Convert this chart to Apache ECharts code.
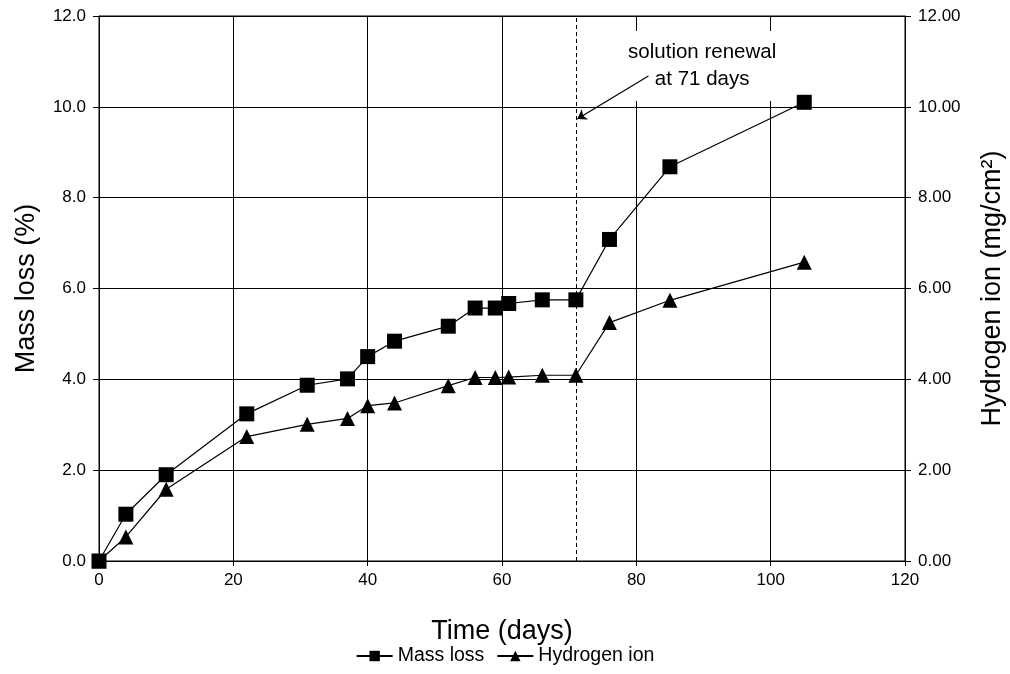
<!DOCTYPE html>
<html><head><meta charset="utf-8">
<script src="https://cdn.jsdelivr.net/npm/echarts@6/dist/echarts.min.js"></script>
<style>html,body{margin:0;padding:0;background:#fff}#c{width:1010px;height:674px}</style>
</head><body><div id="c"></div>
<script>
const days = [0, 4, 10, 22, 31, 37, 40, 44, 52, 56, 59, 61, 66, 71, 76, 85, 105];
const massLoss = [0.0, 1.03, 1.90, 3.24, 3.87, 4.01, 4.50, 4.84, 5.17, 5.57, 5.57, 5.67, 5.75, 5.75, 7.08, 8.68, 10.10];
const hydrogenIon = [0.0, 0.53, 1.58, 2.74, 3.01, 3.14, 3.42, 3.48, 3.86, 4.04, 4.04, 4.05, 4.09, 4.09, 5.25, 5.74, 6.58];
const renewalDay = 71;
const annotationText = 'solution renewal\nat 71 days';

const font = 'Liberation Sans, Arial, sans-serif';
const chart = echarts.init(document.getElementById('c'));
const pair = (xs, ys) => xs.map((x, i) => [x, ys[i]]);
chart.setOption({
  animation: false,
  grid: { left: 99, right: 105, top: 16, bottom: 113, show: true, borderColor: '#000', borderWidth: 1, containLabel: false, outerBoundsMode: 'none' },
  xAxis: {
    type: 'value', min: 0, max: 120, interval: 20,
    name: 'Time (days)', nameLocation: 'middle', nameGap: 57,
    nameTextStyle: { fontFamily: font, fontSize: 27, color: '#000' },
    axisLine: { lineStyle: { color: '#000' } },
    axisTick: { show: true, length: 5, lineStyle: { color: '#000' } },
    axisLabel: { fontFamily: font, fontSize: 17, color: '#000', margin: 11 },
    splitLine: { show: true, lineStyle: { color: '#000', width: 1 } }
  },
  yAxis: [{
    type: 'value', min: 0, max: 12, interval: 2, position: 'left',
    name: 'Mass loss (%)', nameLocation: 'middle', nameGap: 59,
    nameTextStyle: { fontFamily: font, fontSize: 27, color: '#000' },
    axisLine: { show: true, lineStyle: { color: '#000' } },
    axisTick: { show: true, length: 6, lineStyle: { color: '#000' } },
    axisLabel: { fontFamily: font, fontSize: 17, color: '#000', margin: 13, formatter: v => v.toFixed(1) },
    splitLine: { show: true, lineStyle: { color: '#000', width: 1 } }
  }, {
    type: 'value', min: 0, max: 12, interval: 2, position: 'right',
    name: 'Hydrogen ion (mg/cm²)', nameLocation: 'middle', nameGap: 74, nameRotate: 90,
    nameTextStyle: { fontFamily: font, fontSize: 27, color: '#000' },
    axisLine: { show: true, lineStyle: { color: '#000' } },
    axisTick: { show: true, length: 6, lineStyle: { color: '#000' } },
    axisLabel: { fontFamily: font, fontSize: 17, color: '#000', margin: 13, formatter: v => v.toFixed(2) },
    splitLine: { show: false }
  }],
  legend: {
    bottom: 3, left: 'center', itemGap: 12, itemWidth: 36, itemHeight: 13,
    textStyle: { fontFamily: font, fontSize: 19.5, color: '#000' },
    data: ['Mass loss', 'Hydrogen ion']
  },
  series: [{
    name: 'Mass loss', type: 'line', yAxisIndex: 0,
    data: pair(days, massLoss),
    symbol: 'rect', symbolSize: 15,
    itemStyle: { color: '#000' }, lineStyle: { color: '#000', width: 1.2 },
    markLine: {
      silent: true, symbol: 'none', label: { show: false },
      lineStyle: { color: '#000', type: [4, 3], width: 1 },
      data: [{ xAxis: renewalDay }]
    },
    markPoint: {
      silent: true, symbol: 'circle', symbolSize: 0,
      label: {
        show: true, formatter: annotationText, fontFamily: font, fontSize: 20.5, color: '#000',
        lineHeight: 27, align: 'center', verticalAlign: 'middle',
        backgroundColor: '#fff', padding: [8, 14]
      },
      data: [{ coord: [89.8, 10.9] }]
    }
  }, {
    name: 'Hydrogen ion', type: 'line', yAxisIndex: 1,
    data: pair(days, hydrogenIon),
    symbol: 'triangle', symbolSize: 15,
    itemStyle: { color: '#000' }, lineStyle: { color: '#000', width: 1.2 },
    markLine: {
      silent: true, z: 20, symbol: ['none', 'arrow'], symbolSize: 9, label: { show: false },
      lineStyle: { color: '#000', type: 'solid', width: 1.2 },
      data: [[{ coord: [81.8, 10.68] }, { coord: [71.2, 9.73] }]]
    }
  }]
});
</script></body></html>
